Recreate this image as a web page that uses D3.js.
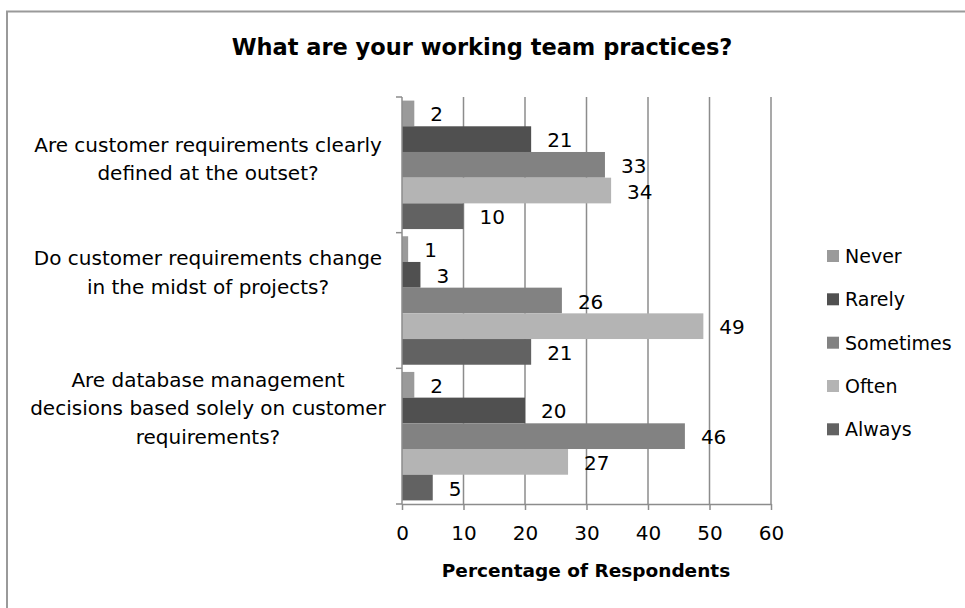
<!DOCTYPE html>
<html>
<head>
<meta charset="utf-8">
<script src="https://cdn.jsdelivr.net/npm/d3@7"></script>
<style>
  html, body { margin: 0; padding: 0; background: #ffffff; }
  svg { display: block; }
  text { font-family: "DejaVu Sans", "Noto Sans", sans-serif; fill: #000; }
</style>
</head>
<body>
<svg id="chart" width="965" height="608"></svg>
<script>
// Survey answers: share of respondents (%) per question and frequency
const categories = [
  "Are customer requirements clearly\ndefined at the outset?",
  "Do customer requirements change\nin the midst of projects?",
  "Are database management\ndecisions based solely on customer\nrequirements?"
];
const seriesNames = ["Never", "Rarely", "Sometimes", "Often", "Always"];
const never     = [2, 1, 2];
const rarely    = [21, 3, 20];
const sometimes = [33, 26, 46];
const often     = [34, 49, 27];
const always    = [10, 21, 5];
const xTicks = [0, 10, 20, 30, 40, 50, 60];

const seriesValues = [never, rarely, sometimes, often, always];
const colors = ["#9a9a9a", "#505050", "#828282", "#b4b4b4", "#626262"];

const plot = { left: 402, right: 771, top: 97, bottom: 504 };
const gridColor = "#8c8c8c";

const svg = d3.select("#chart");

// outer chart frame
svg.append("rect")
  .attr("x", 7).attr("y", 11.5)
  .attr("width", 960).attr("height", 620)
  .attr("fill", "#fff")
  .attr("stroke", "#9a9a9a").attr("stroke-width", 2);

// title
svg.append("text")
  .attr("x", 482).attr("y", 55)
  .attr("text-anchor", "middle")
  .attr("font-size", 22.5).attr("font-weight", "bold")
  .text("What are your working team practices?");

const x = d3.scaleLinear().domain([0, 60]).range([plot.left, plot.right]);
const y = d3.scaleBand().domain(categories).range([plot.top, plot.bottom]).padding(0);
const ySub = d3.scaleBand().domain(seriesNames).range([0, y.bandwidth()])
  .paddingInner(0).paddingOuter(0.14);

// vertical gridlines
svg.append("g")
  .selectAll("line")
  .data(xTicks.filter(t => t > 0))
  .join("line")
  .attr("x1", d => x(d)).attr("x2", d => x(d))
  .attr("y1", plot.top).attr("y2", plot.bottom)
  .attr("stroke", gridColor).attr("stroke-width", 1.5);

// bars
const rows = [];
categories.forEach((c, ci) => {
  seriesNames.forEach((s, si) => {
    rows.push({ cat: c, series: s, value: seriesValues[si][ci], color: colors[si] });
  });
});

svg.append("g")
  .selectAll("rect")
  .data(rows)
  .join("rect")
  .attr("x", x(0))
  .attr("y", d => y(d.cat) + ySub(d.series))
  .attr("width", d => x(d.value) - x(0))
  .attr("height", ySub.bandwidth())
  .attr("fill", d => d.color);

// value labels
svg.append("g")
  .selectAll("text")
  .data(rows)
  .join("text")
  .attr("x", d => x(d.value) + 16)
  .attr("y", d => y(d.cat) + ySub(d.series) + ySub.bandwidth() / 2 + 1)
  .attr("dominant-baseline", "central")
  .attr("font-size", 20)
  .text(d => d.value);

// bottom axis
const xAxis = d3.axisBottom(x).tickValues(xTicks).tickSize(6).tickPadding(16).tickSizeOuter(0);
const gx = svg.append("g").attr("transform", `translate(0,${plot.bottom})`).call(xAxis);
gx.select(".domain").attr("stroke", gridColor).attr("stroke-width", 1.5);
gx.selectAll(".tick line").attr("stroke", gridColor).attr("stroke-width", 1.5);
gx.selectAll(".tick text").attr("font-size", 20).attr("font-family", '"DejaVu Sans", sans-serif').attr("fill", "#000");

// left axis with category boundary ticks
const gy = svg.append("g");
gy.append("line")
  .attr("x1", plot.left).attr("x2", plot.left)
  .attr("y1", plot.top).attr("y2", plot.bottom)
  .attr("stroke", gridColor).attr("stroke-width", 1.5);
const bounds = categories.map(c => y(c)).concat([plot.bottom]);
gy.selectAll("line.b")
  .data(bounds)
  .join("line")
  .attr("class", "b")
  .attr("x1", plot.left - 6).attr("x2", plot.left)
  .attr("y1", d => d).attr("y2", d => d)
  .attr("stroke", gridColor).attr("stroke-width", 1.5);

// category labels (wrapped)
const labelShift = [-6, -28, -28];
const lineGap = 28.5;
categories.forEach((c, ci) => {
  const lines = c.split("\n");
  const cy = y(c) + y.bandwidth() / 2 + labelShift[ci];
  const t = svg.append("text")
    .attr("text-anchor", "middle")
    .attr("font-size", 20);
  lines.forEach((ln, li) => {
    t.append("tspan")
      .attr("x", 208)
      .attr("y", cy + (li - (lines.length - 1) / 2) * lineGap)
      .attr("dominant-baseline", "central")
      .text(ln);
  });
});

// x axis title
svg.append("text")
  .attr("x", 586).attr("y", 577)
  .attr("text-anchor", "middle")
  .attr("font-size", 18.5).attr("font-weight", "bold")
  .text("Percentage of Respondents");

// legend
const legendRows = [256, 299.3, 342.7, 386, 429.3];
const lg = svg.append("g");
seriesNames.forEach((s, i) => {
  lg.append("rect")
    .attr("x", 827).attr("y", legendRows[i] - 6)
    .attr("width", 12).attr("height", 12)
    .attr("fill", colors[i]);
  lg.append("text")
    .attr("x", 845).attr("y", legendRows[i])
    .attr("dominant-baseline", "central")
    .attr("font-size", 19)
    .text(s);
});
</script>
</body>
</html>
